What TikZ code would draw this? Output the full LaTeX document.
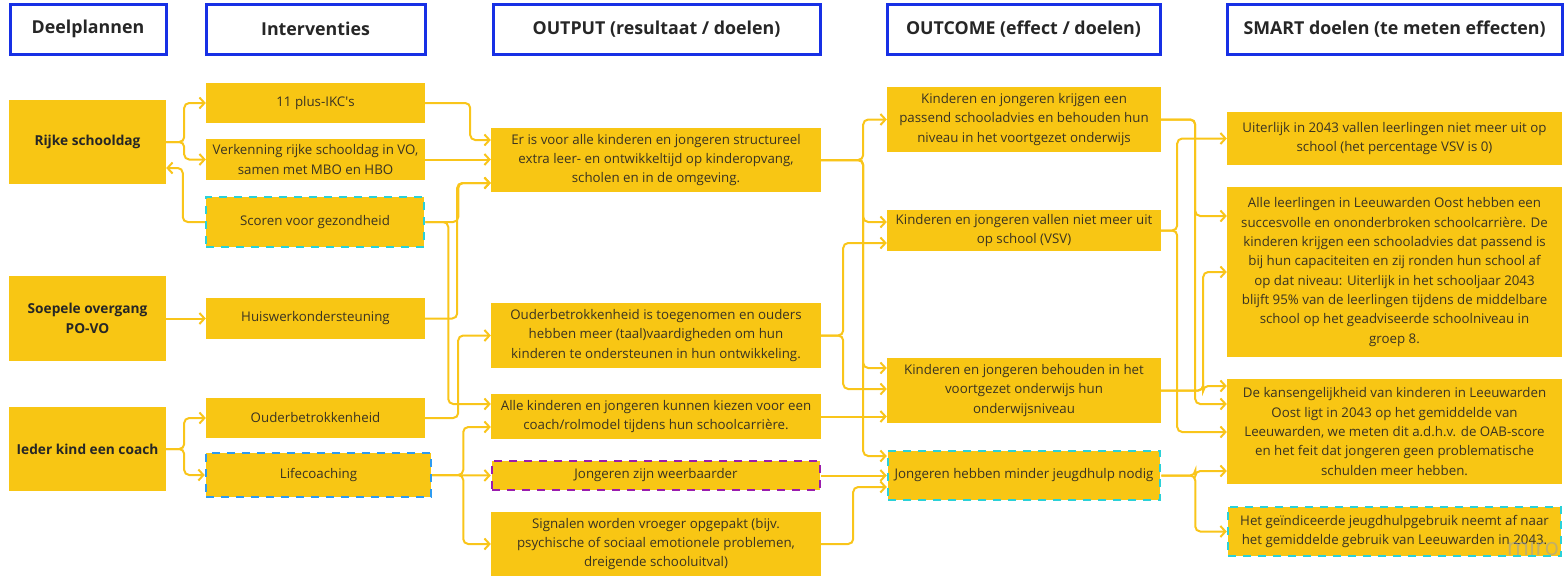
\documentclass[tikz,border=0pt]{standalone}
\usepackage{fontspec}
\setmainfont{Open Sans}
\usetikzlibrary{arrows.meta}
\definecolor{boxY}{HTML}{F8C614}
\definecolor{lineY}{HTML}{F9C51A}
\definecolor{hdrB}{HTML}{1730E5}
\definecolor{teal}{HTML}{2AD1D8}
\definecolor{dblue}{HTML}{2D9BF0}
\definecolor{purp}{HTML}{9A1DAE}
\definecolor{txt}{HTML}{3A3322}
\definecolor{miroC}{HTML}{8E9AB8}
\tikzset{
  hdr/.style={draw=hdrB, line width=3pt, fill=white, inner sep=0pt, align=center,
    font=\fontsize{17.8}{21}\selectfont\bfseries, text=black!85},
  pbox/.style={fill=boxY, draw=none, inner sep=0pt, align=center,
    font=\fontsize{13.3}{19.3}\selectfont, text=txt},
  lbox/.style={fill=boxY, draw=none, inner sep=0pt, align=center,
    font=\fontsize{13.7}{20}\selectfont\bfseries, text=black!85},
  dteal/.style={draw=teal, line width=2.5pt, dash pattern=on 8pt off 7pt},
  dblu/.style={draw=dblue, line width=2.5pt, dash pattern=on 8pt off 7pt},
  dpur/.style={draw=purp, line width=2.5pt, dash pattern=on 8pt off 7pt},
  conn/.style={draw=lineY, line width=2pt, rounded corners=5pt,
    -{Straight Barb[length=5pt,width=11pt,line width=2pt]}},
}
\begin{document}
\begin{tikzpicture}[x=1pt,y=-1pt]
\useasboundingbox (0,0) rectangle (1566,576);
% headers
\node[hdr, minimum width=156, minimum height=50] (h1) at (88,29) {Deelplannen};
\node[hdr, minimum width=219, minimum height=50] (h2) at (315.5,29) {Interventies};
\node[hdr, minimum width=327, minimum height=50] (h3) at (656.5,29) {OUTPUT (resultaat / doelen)};
\node[hdr, minimum width=273, minimum height=50] (h4) at (1023.5,29) {OUTCOME (effect / doelen)};
\node[hdr, minimum width=335, minimum height=50] (h5) at (1394.5,29) {SMART doelen (te meten effecten)};
% column 1
\node[lbox, minimum width=157, minimum height=84] (rijke) at (87.5,142) {Rijke schooldag};
\node[lbox, minimum width=157, minimum height=85] (soep) at (87.5,318.5) {Soepele overgang\\PO-VO};
\node[lbox, minimum width=157, minimum height=84] (ieder) at (87.5,449) {Ieder kind een coach};
% column 2
\node[pbox, minimum width=219, minimum height=40] (ikc) at (315.5,103) {11 plus-IKC\textquotesingle s};
\node[pbox, minimum width=219, minimum height=41] (verk) at (315.5,159.5) {Verkenning rijke schooldag in VO,\\samen met MBO en HBO};
\node[pbox, dteal, minimum width=218, minimum height=50] (scor) at (315,222) {Scoren voor gezondheid};
\node[pbox, minimum width=219, minimum height=41] (huis) at (315.5,318.5) {Huiswerkondersteuning};
\node[pbox, minimum width=219, minimum height=40] (oudr) at (315.5,418) {Ouderbetrokkenheid};
\node[pbox, dblu, minimum width=225, minimum height=44] (life) at (318.5,475) {Lifecoaching};
% column 3
\node[pbox, minimum width=330, minimum height=64] (er) at (656,160) {Er is voor alle kinderen en jongeren structureel\\extra leer- en ontwikkeltijd op kinderopvang,\\scholen en in de omgeving.};
\node[pbox, minimum width=330, minimum height=65] (oudt) at (656,335.5) {Ouderbetrokkenheid is toegenomen en ouders\\hebben meer (taal)vaardigheden om hun\\kinderen te ondersteunen in hun ontwikkeling.};
\node[pbox, minimum width=330, minimum height=45] (alle) at (656,416.5) {Alle kinderen en jongeren kunnen kiezen voor een\\coach/rolmodel tijdens hun schoolcarrière.};
\node[pbox, dpur, minimum width=328, minimum height=29] (weer) at (656,475.5) {Jongeren zijn weerbaarder};
\node[pbox, minimum width=330, minimum height=64] (sign) at (656,544) {Signalen worden vroeger opgepakt (bijv.\\psychische of sociaal emotionele problemen,\\dreigende schooluitval)};
% column 4
\node[pbox, minimum width=274, minimum height=65] (pass) at (1024,119.5) {Kinderen en jongeren krijgen een\\passend schooladvies en behouden hun\\niveau in het voortgezet onderwijs};
\node[pbox, minimum width=274, minimum height=41] (vall) at (1024,230.5) {Kinderen en jongeren vallen niet meer uit\\op school (VSV)};
\node[pbox, minimum width=274, minimum height=65] (beh) at (1024,390.5) {Kinderen en jongeren behouden in het\\voortgezet onderwijs hun\\onderwijsniveau};
\node[pbox, dteal, minimum width=272, minimum height=49] (jeug) at (1024,475.5) {Jongeren hebben minder jeugdhulp nodig};
% column 5
\node[pbox, minimum width=335, minimum height=53] (uit) at (1394.5,138.5) {Uiterlijk in 2043 vallen leerlingen niet meer uit op\\school (het percentage VSV is 0)};
\node[pbox, minimum width=335, minimum height=170] (alll) at (1394.5,272) {Alle leerlingen in Leeuwarden Oost hebben een\\succesvolle en ononderbroken schoolcarrière. De\\kinderen krijgen een schooladvies dat passend is\\bij hun capaciteiten en zij ronden hun school af\\op dat niveau: Uiterlijk in het schooljaar 2043\\blijft 95\% van de leerlingen tijdens de middelbare\\school op het geadviseerde schoolniveau in\\groep 8.};
\node[pbox, minimum width=335, minimum height=105] (kans) at (1394.5,431.5) {De kansengelijkheid van kinderen in Leeuwarden\\Oost ligt in 2043 op het gemiddelde van\\Leeuwarden, we meten dit a.d.h.v. de OAB-score\\en het feit dat jongeren geen problematische\\schulden meer hebben.};
\node[pbox, dteal, minimum width=333, minimum height=49] (gein) at (1394.5,531.5) {Het geïndiceerde jeugdhulpgebruik neemt af naar\\het gemiddelde gebruik van Leeuwarden in 2043.};
% watermark
\node[text=miroC, opacity=0.5, font=\fontsize{24}{24}\selectfont, inner sep=0pt] (miro) at (1533,547) {miro};
% connectors col1 -> col2
\draw[conn] (rijke.east) -- ++(18,0) |- (ikc.west);
\draw[conn] (rijke.east) -- ++(18,0) |- (verk.west);
\draw[conn] (scor.west) -- ++(-22,0) |- (rijke.east |- 0,168);
\draw[conn] (soep.east) -- (huis.west);
\draw[conn] (ieder.east) -- ++(18,0) |- (oudr.west);
\draw[conn] (ieder.east) -- ++(18,0) |- (life.west);
% col2 -> col3
\draw[conn] (ikc.east) -- ++(45,0) |- (er.west |- 0,140);
\draw[conn] (verk.east) -- (er.west |- verk.east);
\draw[conn] (scor.east) -- ++(33,0) |- (er.west |- 0,183);
\draw[conn] (huis.east) -- ++(32,0) |- (er.west |- 0,183);
\draw[conn] (scor.east) -- ++(23,0) |- (alle.west |- 0,404);
\draw[conn] (oudr.east) -- ++(33,0) |- (oudt.west);
\draw[conn] (life.east) -- ++(31,0) |- (alle.west |- 0,427);
\draw[conn] (life.east) -- (weer.west);
\draw[conn] (life.east) -- ++(31,0) |- (sign.west);
% col3 -> col4
\draw[conn] (er.east) -- ++(42,0) |- (pass.west);
\draw[conn] (er.east) -- ++(42,0) |- (vall.west |- 0,222);
\draw[conn] (er.east) -- ++(42,0) |- (beh.west |- 0,368);
\draw[conn] (er.east) -- ++(42,0) |- (jeug.west |- 0,456);
\draw[conn] (oudt.east) -- ++(22,0) |- (vall.west |- 0,243);
\draw[conn] (oudt.east) -- ++(22,0) |- (beh.west |- 0,389);
\draw[conn] (alle.east) -- (beh.west |- alle.east);
\draw[conn] (weer.east) -- (jeug.west |- weer.east);
\draw[conn] (sign.east) -- ++(32,0) |- (jeug.west |- 0,487);
% col4 -> col5
\draw[conn] (pass.east) -- ++(34,0) |- (alll.west |- 0,216);
\draw[conn] (pass.east) -- ++(34,0) |- (kans.west |- 0,404);
\draw[conn] (vall.east) -- ++(16,0) |- (uit.west);
\draw[conn] (vall.east) -- ++(16,0) |- (kans.west |- 0,432);
\draw[conn] (beh.east) -- ++(42,0) |- (alll.west |- 0,272);
\draw[conn] (beh.east) -- ++(42,0) |- (kans.west |- 0,386);
\draw[conn] (jeug.east) -- ++(34,0) |- (kans.west |- 0,471);
\draw[conn] (jeug.east) -- ++(34,0) |- (gein.west);
\end{tikzpicture}
\end{document}
